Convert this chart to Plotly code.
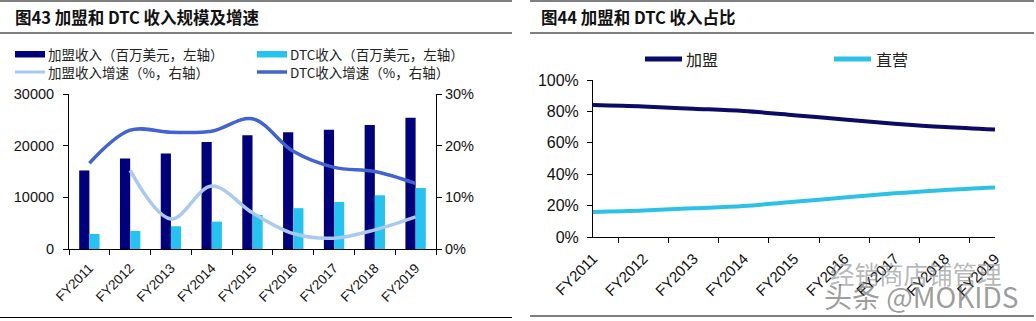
import plotly.graph_objects as go

W, H = 1036, 321

# ---------------- data ----------------
years = ["FY2011", "FY2012", "FY2013", "FY2014", "FY2015", "FY2016", "FY2017", "FY2018", "FY2019"]
franchise_rev = [15200, 17500, 18500, 20700, 22000, 22600, 23100, 24000, 25400]
dtc_rev = [2900, 3500, 4400, 5300, 6600, 7900, 9100, 10400, 11800]
franchise_growth = [None, 0.152, 0.058, 0.122, 0.070, 0.030, 0.021, 0.037, 0.062]
dtc_growth = [0.166, 0.230, 0.226, 0.228, 0.252, 0.189, 0.158, 0.150, 0.127]
share_franchise = [0.840, 0.831, 0.817, 0.802, 0.776, 0.748, 0.722, 0.700, 0.684]
share_dtc = [0.160, 0.169, 0.183, 0.198, 0.224, 0.252, 0.278, 0.300, 0.316]

left_title = "图43 加盟和 DTC 收入规模及增速"
right_title = "图44 加盟和 DTC 收入占比"
left_legend = ["加盟收入（百万美元，左轴）", "DTC收入（百万美元，左轴）",
               "加盟收入增速（%，右轴）", "DTC收入增速（%，右轴）"]
right_legend = ["加盟", "直营"]

# ---------------- styles ----------------
NAVY = "#00007A"
CYAN = "#27C3F0"
DTC_LINE = "#4363D0"
FR_LINE = "#A9C9EE"
R_NAVY = "#0B0B66"
R_CYAN = "#2DC1E6"
LAT = "Liberation Sans, Arial, sans-serif"
CJK = "Noto Sans CJK SC, sans-serif"


def px(x):
    return x / W


def py(y):
    return 1 - y / H


fig = go.Figure()

fig.add_trace(go.Bar(x=years, y=franchise_rev, marker_color=NAVY, offsetgroup="a",
                     xaxis="x", yaxis="y", showlegend=False))
fig.add_trace(go.Bar(x=years, y=dtc_rev, marker_color=CYAN, offsetgroup="b",
                     xaxis="x", yaxis="y", showlegend=False))
fig.add_trace(go.Scatter(x=years, y=franchise_growth, mode="lines", line=dict(color=FR_LINE, width=3.5, shape="spline"),
                         xaxis="x", yaxis="y2", showlegend=False, connectgaps=False))
fig.add_trace(go.Scatter(x=years, y=dtc_growth, mode="lines", line=dict(color=DTC_LINE, width=3.5, shape="spline"),
                         xaxis="x", yaxis="y2", showlegend=False))

fig.add_trace(go.Scatter(x=years, y=share_franchise, mode="lines", line=dict(color=R_NAVY, width=4, shape="spline"),
                         xaxis="x3", yaxis="y3", showlegend=False))
fig.add_trace(go.Scatter(x=years, y=share_dtc, mode="lines", line=dict(color=R_CYAN, width=4, shape="spline"),
                         xaxis="x3", yaxis="y3", showlegend=False))

axis_common = dict(showline=True, linecolor="black", linewidth=1, ticks="outside", ticklen=5,
                   tickcolor="black", showgrid=False, zeroline=False, automargin=False)

fig.update_layout(
    template="none",
    width=W, height=H, margin=dict(l=0, r=0, t=0, b=0, autoexpand=False),
    paper_bgcolor="white", plot_bgcolor="white",
    barmode="group", bargap=0.5, bargroupgap=0,
    xaxis=dict(domain=[px(69), px(436)], anchor="y", type="category", tickson="boundaries",
               tickangle=-45, ticklabelstandoff=5,
               tickfont=dict(family=LAT, size=13.5, color="#111"), **axis_common),
    yaxis=dict(domain=[py(249), py(94)], anchor="x", range=[0, 30000], dtick=10000, tickformat="d",
               ticklabelstandoff=6,
               tickfont=dict(family=LAT, size=14.5, color="#111"), **axis_common),
    yaxis2=dict(overlaying="y", side="right", anchor="x", range=[0, 0.30], dtick=0.10, tickformat=".0%",
                tickfont=dict(family=LAT, size=14.5, color="#111"), **axis_common),
    xaxis3=dict(domain=[px(593), px(995)], anchor="y3", type="category", tickson="boundaries",
                tickangle=-45, ticklabelstandoff=6,
                tickfont=dict(family=LAT, size=15, color="#111"), **axis_common),
    yaxis3=dict(domain=[py(237), py(80)], anchor="x3", range=[0, 1.0], dtick=0.2, tickformat=".0%",
                ticklabelstandoff=5,
                tickfont=dict(family=LAT, size=16, color="#111"), **axis_common),
)

shapes = []
# panel rules
for x0, x1 in [(0, 512), (530, 1034)]:
    for yy in [1, 33]:
        shapes.append(dict(type="line", xref="paper", yref="paper", x0=px(x0), x1=px(x1), y0=py(yy), y1=py(yy),
                           line=dict(color="black", width=1.2)))
shapes.append(dict(type="line", xref="paper", yref="paper", x0=px(0), x1=px(512), y0=py(317.5), y1=py(317.5),
                   line=dict(color="black", width=1.2)))
shapes.append(dict(type="line", xref="paper", yref="paper", x0=px(530), x1=px(1034), y0=py(316), y1=py(316),
                   line=dict(color="black", width=1.2)))

# left legend symbols
shapes.append(dict(type="rect", xref="paper", yref="paper", x0=px(15), x1=px(45), y0=py(57.5), y1=py(51),
                   fillcolor=NAVY, line=dict(width=0)))
shapes.append(dict(type="rect", xref="paper", yref="paper", x0=px(257), x1=px(287), y0=py(57.5), y1=py(51),
                   fillcolor=CYAN, line=dict(width=0)))
shapes.append(dict(type="line", xref="paper", yref="paper", x0=px(15), x1=px(45), y0=py(72), y1=py(72),
                   line=dict(color=FR_LINE, width=3)))
shapes.append(dict(type="line", xref="paper", yref="paper", x0=px(257), x1=px(287), y0=py(72), y1=py(72),
                   line=dict(color=DTC_LINE, width=3.5)))
# right legend symbols
shapes.append(dict(type="line", xref="paper", yref="paper", x0=px(645), x1=px(682), y0=py(59), y1=py(59),
                   line=dict(color=R_NAVY, width=5)))
shapes.append(dict(type="line", xref="paper", yref="paper", x0=px(834), x1=px(871), y0=py(59), y1=py(59),
                   line=dict(color=R_CYAN, width=5)))

annotations = [
    dict(text="<b>" + left_title + "</b>", x=px(13), y=py(17), xanchor="left", yanchor="middle",
         font=dict(family=CJK, size=16.5, color="#111")),
    dict(text="<b>" + right_title + "</b>", x=px(539), y=py(17), xanchor="left", yanchor="middle",
         font=dict(family=CJK, size=16.5, color="#111")),
    dict(text=left_legend[0], x=px(46), y=py(54), xanchor="left", yanchor="middle",
         font=dict(family=CJK, size=13.5, color="#222")),
    dict(text=left_legend[1], x=px(288), y=py(54), xanchor="left", yanchor="middle",
         font=dict(family=CJK, size=13.5, color="#222")),
    dict(text=left_legend[2], x=px(46), y=py(72), xanchor="left", yanchor="middle",
         font=dict(family=CJK, size=13.5, color="#222")),
    dict(text=left_legend[3], x=px(288), y=py(72), xanchor="left", yanchor="middle",
         font=dict(family=CJK, size=13.5, color="#222")),
    dict(text=right_legend[0], x=px(684), y=py(59), xanchor="left", yanchor="middle",
         font=dict(family=CJK, size=16, color="#222")),
    dict(text=right_legend[1], x=px(874), y=py(59), xanchor="left", yanchor="middle",
         font=dict(family=CJK, size=16, color="#222")),
    # watermark
    dict(text="经销商店铺管理", x=px(828), y=py(273), xanchor="left", yanchor="middle",
         font=dict(family=CJK, size=24.5, color="rgba(120,120,120,0.55)")),
    dict(text="头条 @MOKIDS", x=px(822), y=py(296), xanchor="left", yanchor="middle",
         font=dict(family=CJK, size=28, color="rgba(90,90,90,0.6)")),
]
for a in annotations:
    a.update(xref="paper", yref="paper", showarrow=False)

fig.update_layout(shapes=shapes, annotations=annotations)

fig.write_html("out.html")
